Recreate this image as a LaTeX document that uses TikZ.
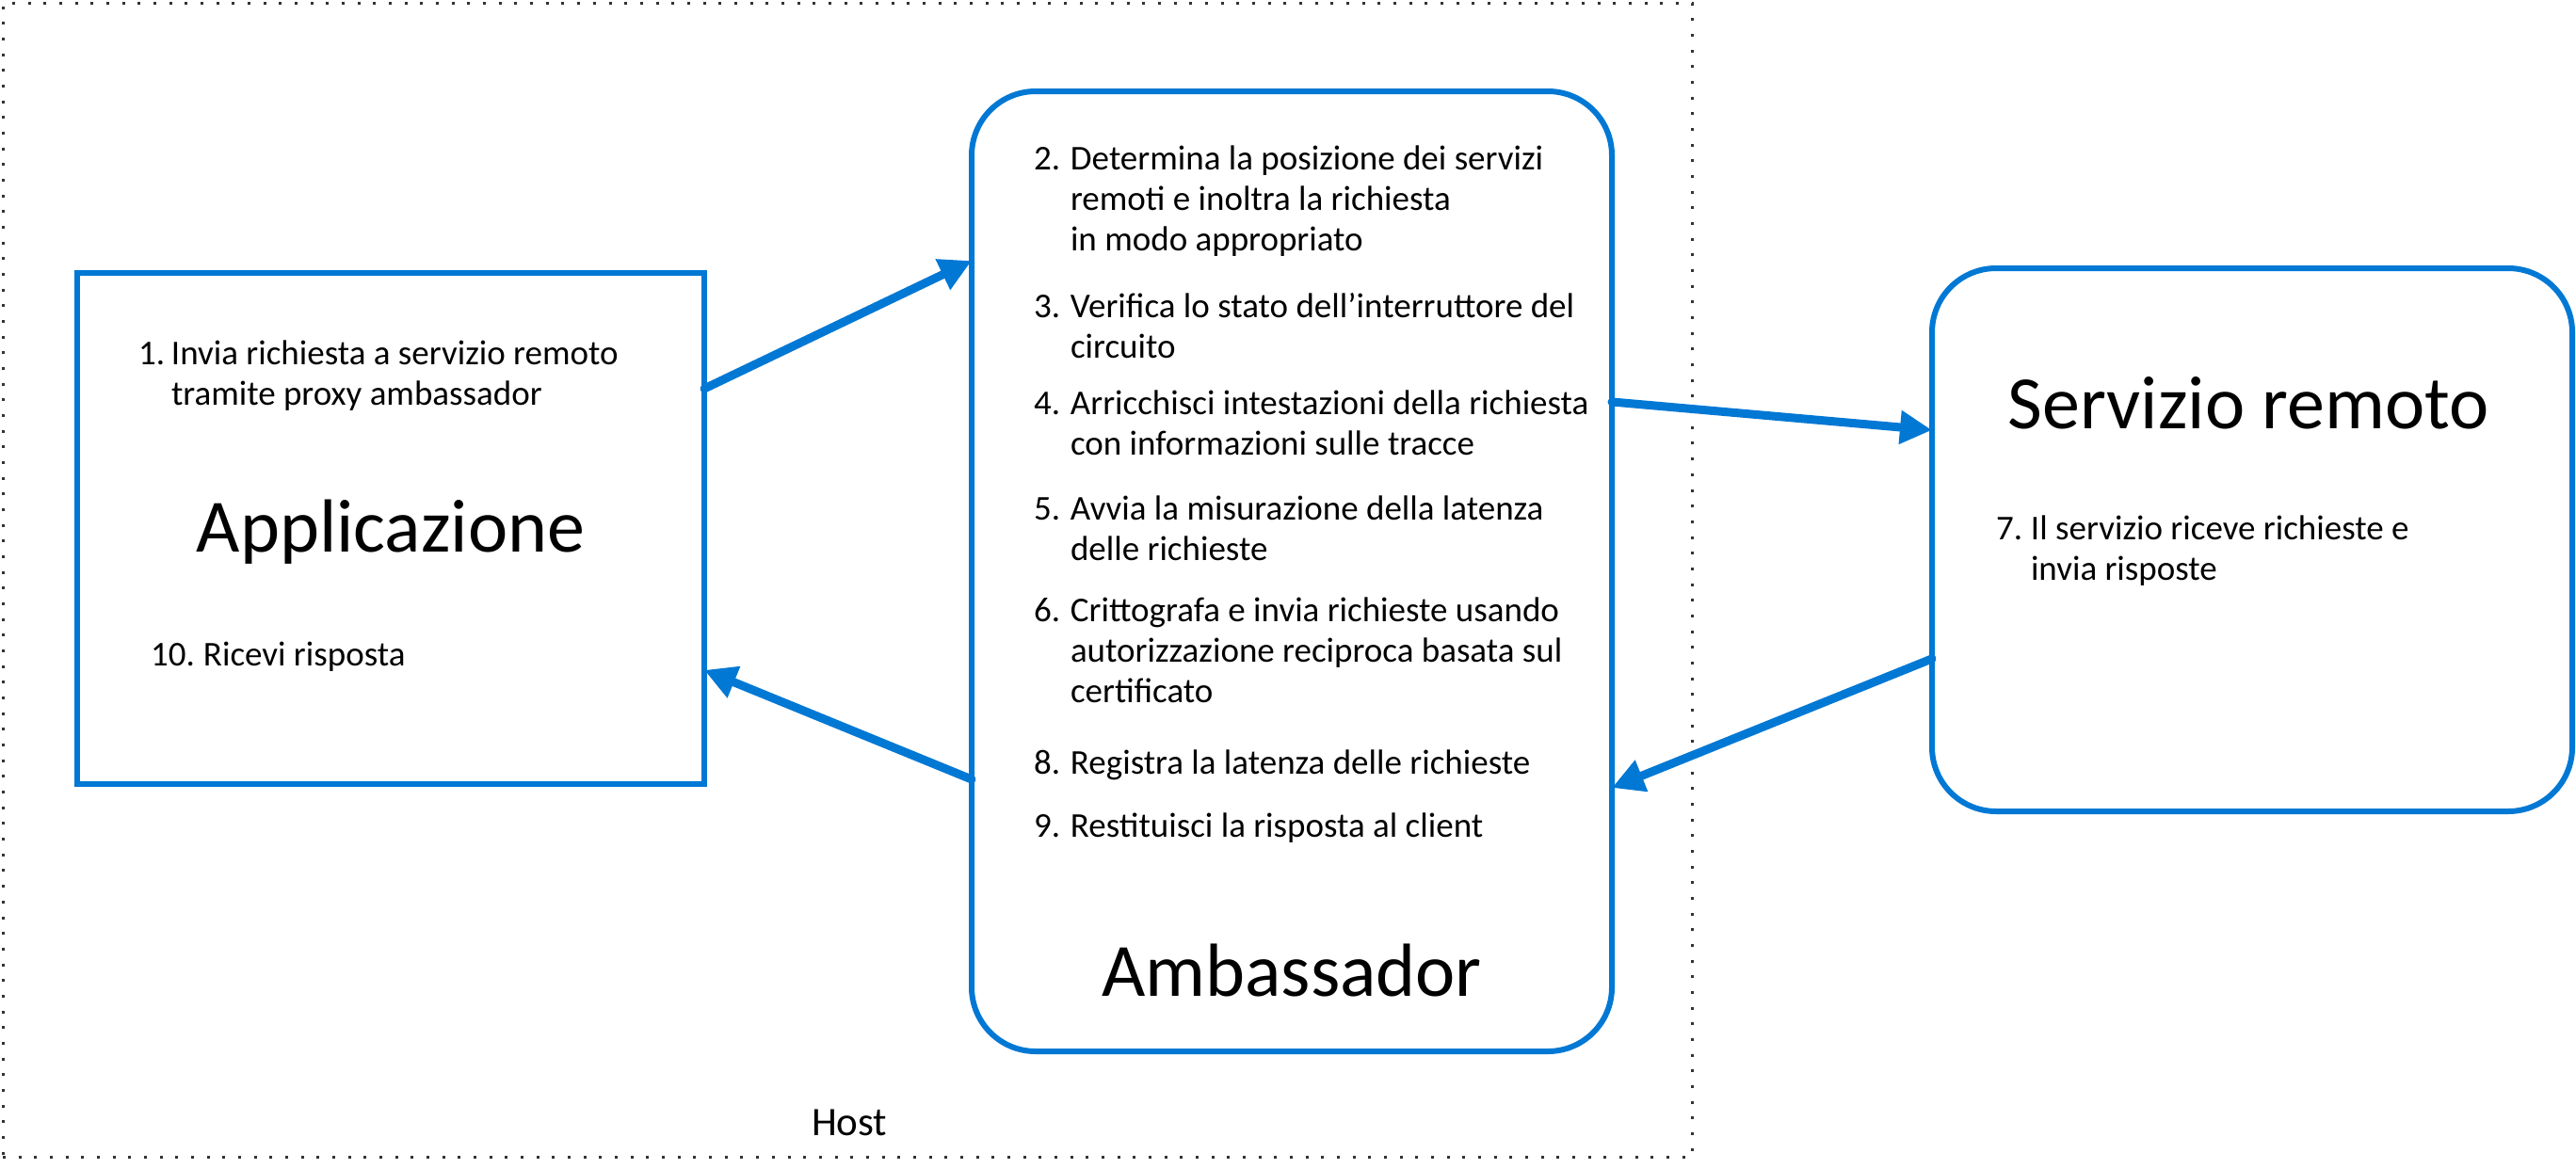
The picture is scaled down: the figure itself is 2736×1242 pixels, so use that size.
\documentclass[tikz,border=0pt]{standalone}
\usepackage{fontspec}
\setmainfont{Carlito}
\usetikzlibrary{arrows.meta,calc}
\definecolor{azblue}{HTML}{0078D4}
\newcommand{\numitem}[3]{\parbox[t]{900pt}{\fontsize{37}{43}\selectfont\hangindent=#1\hangafter=1\noindent\makebox[#1][l]{#2}#3}}
\begin{document}
\begin{tikzpicture}[x=1pt,y=-1pt,
  box/.style={draw=azblue, line width=6pt, inner sep=0pt, outer sep=0pt},
  roundbox/.style={box, rounded corners=68pt},
  flow/.style={draw=azblue, line width=9pt, line cap=round, -{Triangle[length=34pt,width=34pt]}},
  txt/.style={anchor=base west, inner sep=0pt, outer sep=0pt},
  title/.style={anchor=base, inner sep=0pt, font=\fontsize{80}{96}\selectfont}
]
\useasboundingbox (0,0) rectangle (2736,1242);
% host
\node[draw=black!80, line width=3pt, dash pattern=on 3pt off 13.67pt,
      minimum width=1794pt, minimum height=1226pt, inner sep=0pt] (host) at (900,616) {};
\node[txt, font=\fontsize{43}{50}\selectfont] (hostlbl) at (862,1206) {Host};
% boxes
\node[box, minimum width=666pt, minimum height=543pt] (app) at (415,561.5) {};
\node[roundbox, minimum width=680pt, minimum height=1020pt] (amb) at (1372,607) {};
\node[roundbox, minimum width=680pt, minimum height=577pt] (srv) at (2392,573.5) {};
% application texts
\node[title] (apptitle) at (415,586) {Applicazione};
\node[txt] (t1) at (147,387) {\numitem{35pt}{1.}{Invia richiesta a servizio remoto\\tramite proxy ambassador}};
\node[txt] (t10) at (160,707) {\numitem{56pt}{10.}{Ricevi risposta}};
% ambassador texts
\node[txt] (t2) at (1098,180) {\numitem{39pt}{2.}{Determina la posizione dei servizi\\remoti e inoltra la richiesta\\in modo appropriato}};
\node[txt] (t3) at (1098,337) {\numitem{39pt}{3.}{Verifica lo stato dell’interruttore del\\circuito}};
\node[txt] (t4) at (1098,440) {\numitem{39pt}{4.}{Arricchisci intestazioni della richiesta\\con informazioni sulle tracce}};
\node[txt] (t5) at (1098,552) {\numitem{39pt}{5.}{Avvia la misurazione della latenza\\delle richieste}};
\node[txt] (t6) at (1098,660) {\numitem{39pt}{6.}{Crittografa e invia richieste usando\\autorizzazione reciproca basata sul\\certificato}};
\node[txt] (t8) at (1098,822) {\numitem{39pt}{8.}{Registra la latenza delle richieste}};
\node[txt] (t9) at (1098,889) {\numitem{39pt}{9.}{Restituisci la risposta al client}};
\node[title] (ambtitle) at (1372,1058) {Ambassador};
% remote service texts
\node[title] (srvtitle) at (2388,455) {Servizio remoto};
\node[txt] (t7) at (2120,573) {\numitem{37pt}{7.}{Il servizio riceve richieste e\\invia risposte}};
% connectors
\draw[flow] ($(app.north east)!0.2265!(app.south east)$) -- ($(amb.north west)!0.1765!(amb.south west)$);
\draw[flow] ($(amb.north east)!0.3235!(amb.south east)$) -- ($(srv.north west)!0.298!(srv.south west)$);
\draw[flow] ($(srv.north west)!0.719!(srv.south west)$) -- ($(amb.north east)!0.7255!(amb.south east)$);
\draw[flow] ($(amb.north west)!0.7167!(amb.south west)$) -- ($(app.north east)!0.777!(app.south east)$);
\end{tikzpicture}
\end{document}
